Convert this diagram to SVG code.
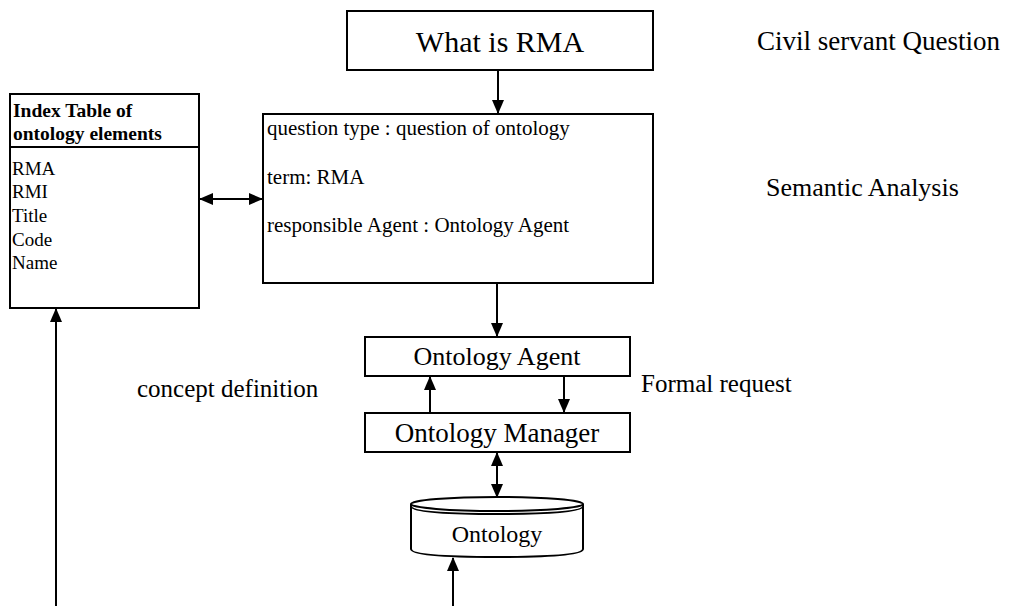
<svg xmlns="http://www.w3.org/2000/svg" width="1013" height="606" viewBox="0 0 1013 606">
<defs>
<marker id="ah" markerWidth="14" markerHeight="14" refX="13" refY="7" orient="auto-start-reverse" markerUnits="userSpaceOnUse">
<path d="M0,1 L14,7 L0,13 Z" fill="#000"/>
</marker>
<style>
.box{fill:#fff;stroke:#000;stroke-width:2}
.t{font-family:"Liberation Serif","Times New Roman",serif;fill:#000}
.ln{stroke:#000;stroke-width:2;fill:none}
</style>
</defs>
<rect width="1013" height="606" fill="#fff"/>
<g id="connectors">
<line class="ln" x1="498" y1="70" x2="498" y2="113" marker-end="url(#ah)"/>
<line class="ln" x1="200" y1="199" x2="262" y2="199" marker-start="url(#ah)" marker-end="url(#ah)"/>
<line class="ln" x1="497" y1="283" x2="497" y2="336" marker-end="url(#ah)"/>
<line class="ln" x1="430" y1="413" x2="430" y2="377" marker-end="url(#ah)"/>
<line class="ln" x1="564" y1="376" x2="564" y2="412" marker-end="url(#ah)"/>
<line class="ln" x1="497" y1="453" x2="497" y2="497" marker-start="url(#ah)" marker-end="url(#ah)"/>
<line class="ln" x1="453" y1="606" x2="453" y2="558" marker-end="url(#ah)"/>
<line class="ln" x1="56" y1="606" x2="56" y2="309" marker-end="url(#ah)"/>
</g>
<g id="question">
<rect class="box" x="347" y="11" width="306" height="59"/>
<text class="t" x="500" y="52" font-size="30" text-anchor="middle">What is RMA</text>
</g>
<g id="label-civil">
<text class="t" x="757" y="50" font-size="27">Civil servant Question</text>
</g>
<g id="semantic">
<rect class="box" x="263" y="114" width="390" height="169"/>
<text class="t" x="267" y="135" font-size="21">question type : question of ontology</text>
<text class="t" x="267" y="184" font-size="21">term: RMA</text>
<text class="t" x="267" y="232" font-size="21">responsible Agent : Ontology Agent</text>
</g>
<g id="label-semantic">
<text class="t" x="766" y="196" font-size="26">Semantic Analysis</text>
</g>
<g id="index-table">
<rect class="box" x="10" y="94" width="189" height="214"/>
<line class="ln" x1="10" y1="147" x2="199" y2="147"/>
<text class="t" x="13" y="117" font-size="19.5" font-weight="bold">Index Table of</text>
<text class="t" x="13" y="140" font-size="19.5" font-weight="bold">ontology elements</text>
<text class="t" x="12" y="175" font-size="19">RMA</text>
<text class="t" x="12" y="198" font-size="19">RMI</text>
<text class="t" x="12" y="222" font-size="19">Title</text>
<text class="t" x="12" y="246" font-size="19">Code</text>
<text class="t" x="12" y="269" font-size="19">Name</text>
</g>
<g id="ontology-agent">
<rect class="box" x="365" y="337" width="265" height="39"/>
<text class="t" x="497" y="365" font-size="26" text-anchor="middle">Ontology Agent</text>
</g>
<g id="label-formal">
<text class="t" x="641" y="392" font-size="25">Formal request</text>
</g>
<g id="label-concept">
<text class="t" x="137" y="397" font-size="25">concept definition</text>
</g>
<g id="ontology-manager">
<rect class="box" x="365" y="413" width="265" height="39"/>
<text class="t" x="497" y="442" font-size="27" text-anchor="middle">Ontology Manager</text>
</g>
<g id="ontology-db">
<path class="box" d="M411,504 L411,549 Q411,557 497,557 Q583,557 583,549 L583,504"/>
<ellipse class="box" cx="497" cy="504" rx="86" ry="7"/>
<path class="ln" d="M411,506 Q411,514 497,514 Q583,514 583,506"/>
<text class="t" x="497" y="542" font-size="24" text-anchor="middle">Ontology</text>
</g>
</svg>
